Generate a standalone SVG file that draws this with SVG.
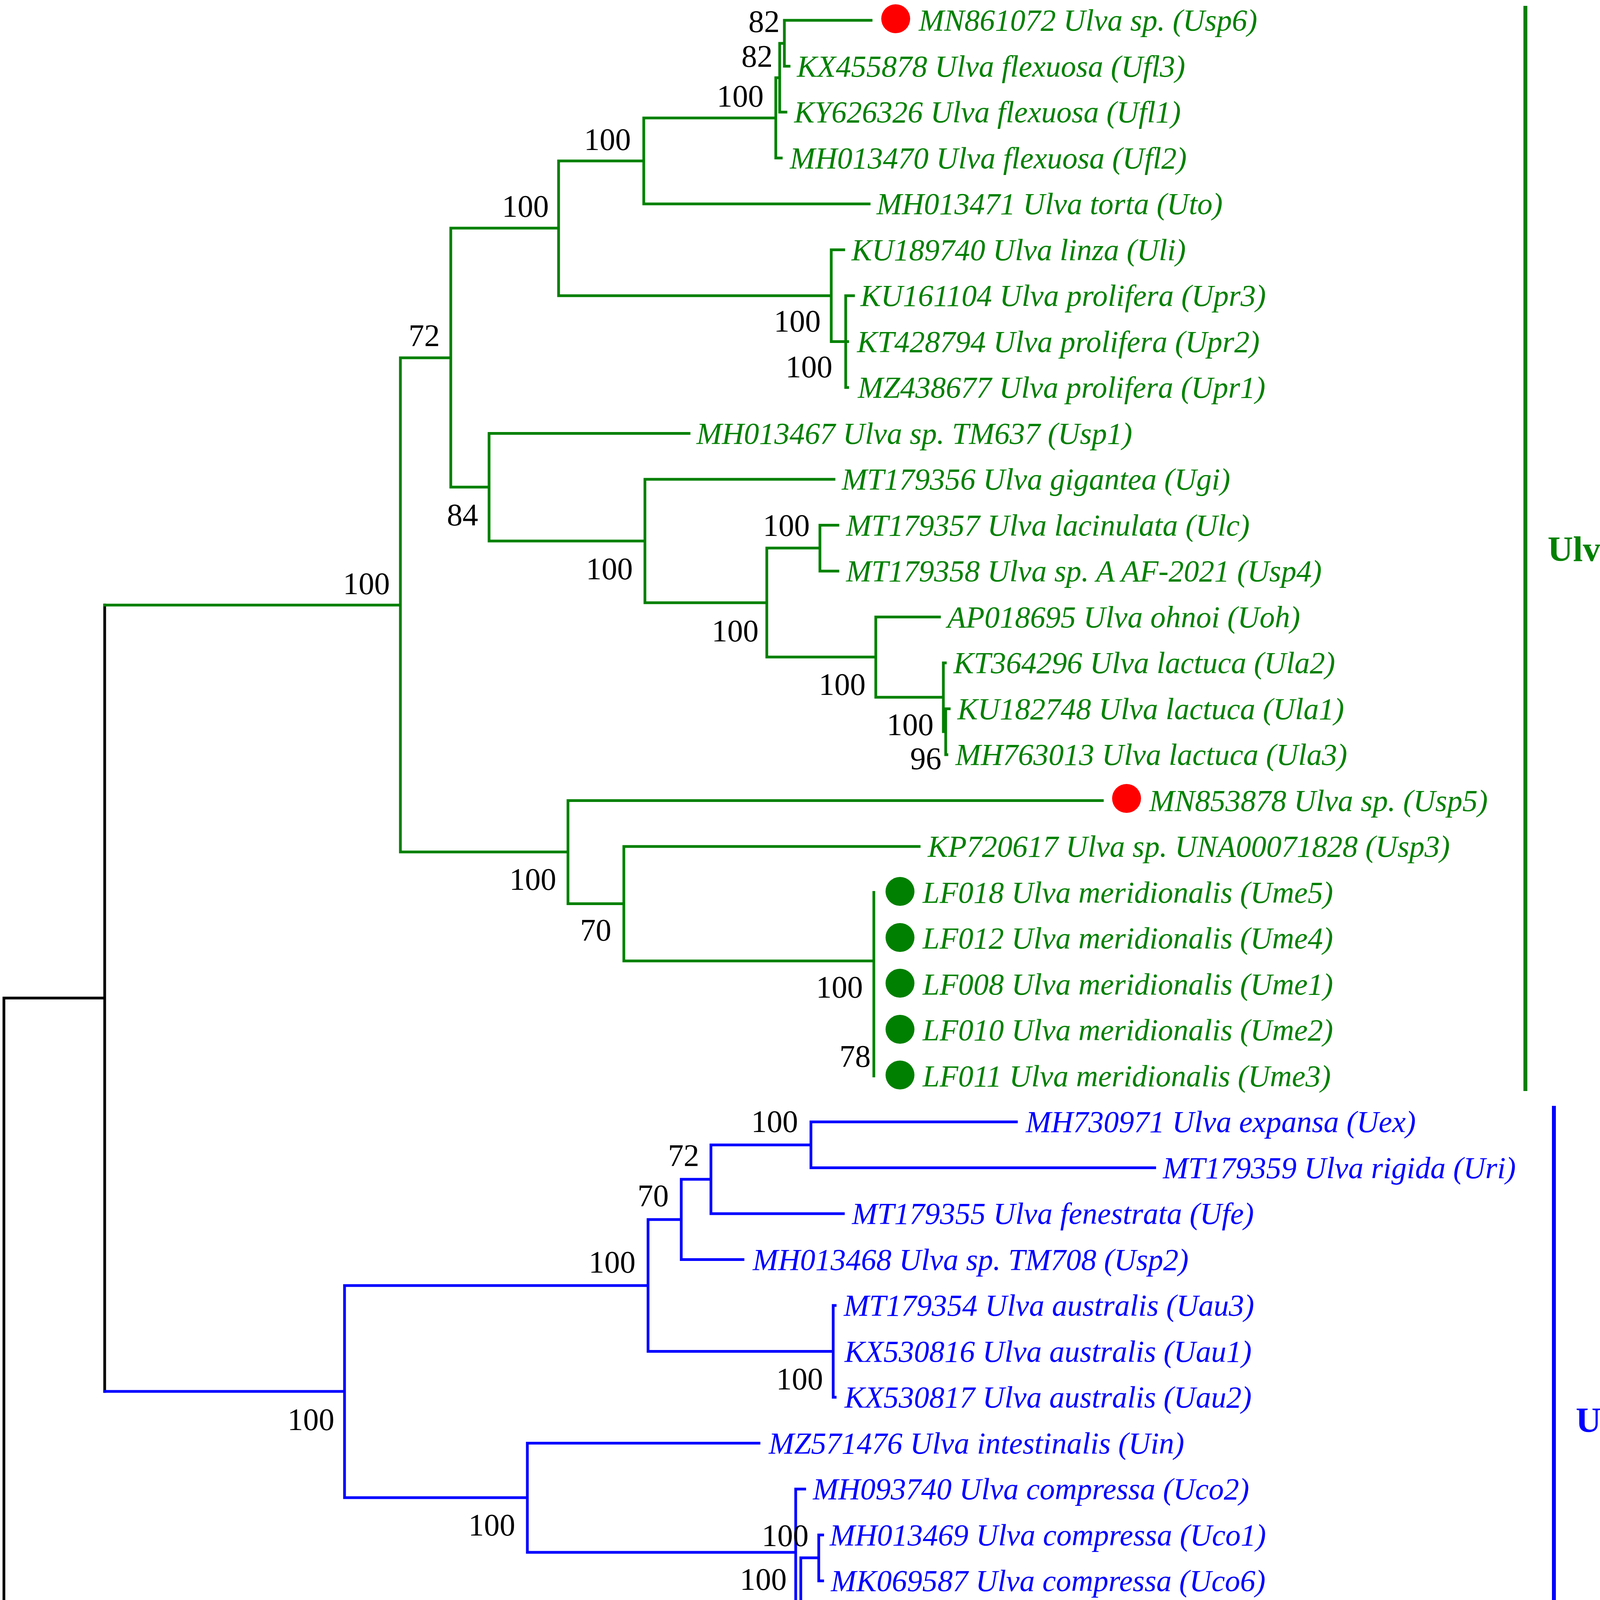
<svg xmlns="http://www.w3.org/2000/svg" width="4317" height="4794" viewBox="0 0 4317 4794">
<style>
.br{fill:none;stroke-width:7;stroke-linecap:square}
.g{stroke:#008000}.b{stroke:#0000FF}.k{stroke:#000000}
.lab{font-family:"Liberation Serif","Times New Roman",serif;font-style:italic;font-size:78px}
.lg{fill:#008000}.lb{fill:#0000FF}.lk{fill:#000000}
.bs{font-family:"Liberation Serif","Times New Roman",serif;font-size:80px;fill:#000;text-anchor:end}
.clade{font-family:"Liberation Serif","Times New Roman",serif;font-weight:bold;font-size:90px}
</style>
<rect width="4317" height="4794" fill="#ffffff"/>
<g id="connectors">
<path class="br k" d="M10 2555 V4517 M10 2555 H268 M268 1549 V3562 M10 4517 H2388"/>
<path class="br g" d="M268 1549 H1025 M1025 916 V2181
M1025 916 H1154 M1154 584 V1247
M1154 584 H1430 M1430 412 V757
M1430 412 H1648 M1648 302 V522
M1648 302 H1986 M1986 199 V404.5 M1986 404.5 H2000
M1986 199 H1996 M1996 111 V287 M1996 287 H2012
M1996 111 H2008 M2008 52 V169.5 M2008 52 H2230 M2008 169.5 H2020
M1648 522 H2225
M1430 757 H2128 M2128 639.5 V874.5 M2128 639.5 H2160
M2128 874.5 H2165 M2165 757 V992 M2165 757 H2185 M2165 874.5 H2170 M2165 992 H2170
M1154 1247 H1252 M1252 1109.5 V1385 M1252 1109.5 H1764
M1252 1385 H1651 M1651 1227 V1543 M1651 1227 H2135
M1651 1543 H1963 M1963 1403 V1682
M1963 1403 H2099 M2099 1344.5 V1462 M2099 1344.5 H2145 M2099 1462 H2145
M1963 1682 H2242 M2242 1579.5 V1785 M2242 1579.5 H2405
M2242 1785 H2415 M2415 1697 V1873 M2415 1697 H2420
M2415 1873 H2421 M2421 1814.5 V1932 M2421 1814.5 H2430 M2421 1932 H2424
M1025 2181 H1454 M1454 2049.5 V2313.5 M1454 2049.5 H2822
M1454 2313.5 H1597 M1597 2167 V2460 M1597 2167 H2353
M1597 2460 H2237 M2237 2284.5 V2754.5"/>
<path class="br b" d="M268 3562 H882 M882 3291 V3834
M882 3291 H1659 M1659 3122 V3459.5
M1659 3122 H1744 M1744 3019 V3224.5 M1744 3224.5 H1902
M1744 3019 H1820 M1820 2931 V3107 M1820 3107 H2159
M1820 2931 H2076 M2076 2872 V2989.5 M2076 2872 H2602 M2076 2989.5 H2956
M1659 3459.5 H2133 M2133 3342 V3577 M2133 3342 H2138 M2133 3577 H2138
M882 3834 H1350 M1350 3694.5 V3974 M1350 3694.5 H1943
M1350 3974 H2037 M2037 3812 V4135 M2037 3812 H2060
M2037 4135 H2050 M2050 3988 V4282
M2050 3988 H2096 M2096 3929.5 V4047 M2096 3929.5 H2106 M2096 4047 H2106
M2050 4282 H2070 M2070 4164.5 V4399.5 M2070 4164.5 H2076 M2070 4282 H2082 M2070 4399.5 H2078"/>
</g>
<g id="bootstrap">
<text class="bs" x="1996" y="82">82</text>
<text class="bs" x="1978" y="171">82</text>
<text class="bs" x="1955" y="273">100</text>
<text class="bs" x="1615" y="384">100</text>
<text class="bs" x="1405" y="555">100</text>
<text class="bs" x="1126" y="886">72</text>
<text class="bs" x="998" y="1521">100</text>
<text class="bs" x="2101" y="849">100</text>
<text class="bs" x="2131" y="966">100</text>
<text class="bs" x="1224" y="1345">84</text>
<text class="bs" x="1620" y="1483">100</text>
<text class="bs" x="2073" y="1372">100</text>
<text class="bs" x="1942" y="1642">100</text>
<text class="bs" x="2216" y="1779">100</text>
<text class="bs" x="2390" y="1882">100</text>
<text class="bs" x="2410" y="1969">96</text>
<text class="bs" x="1424" y="2278">100</text>
<text class="bs" x="1565" y="2408">70</text>
<text class="bs" x="2209" y="2554">100</text>
<text class="bs" x="2229" y="2731">78</text>
<text class="bs" x="2043" y="2898">100</text>
<text class="bs" x="1790" y="2985">72</text>
<text class="bs" x="1712" y="3088">70</text>
<text class="bs" x="1627" y="3258">100</text>
<text class="bs" x="2107" y="3557">100</text>
<text class="bs" x="856" y="3661">100</text>
<text class="bs" x="1319" y="3931">100</text>
<text class="bs" x="2070" y="3958">100</text>
<text class="bs" x="2014" y="4070">100</text>
<text class="bs" x="2027" y="4230">96</text>
<text class="bs" x="2043" y="4377">100</text>
</g>
<g id="leaf-Usp6"><circle cx="2293" cy="48" r="37" fill="#FF0000"/><text class="lab lg" x="2352" y="78">MN861072 Ulva sp. (Usp6)</text></g>
<g id="leaf-Ufl3"><text class="lab lg" x="2040" y="195.5">KX455878 Ulva flexuosa (Ufl3)</text></g>
<g id="leaf-Ufl1"><text class="lab lg" x="2033" y="313">KY626326 Ulva flexuosa (Ufl1)</text></g>
<g id="leaf-Ufl2"><text class="lab lg" x="2022" y="430.5">MH013470 Ulva flexuosa (Ufl2)</text></g>
<g id="leaf-Uto"><text class="lab lg" x="2244" y="548">MH013471 Ulva torta (Uto)</text></g>
<g id="leaf-Uli"><text class="lab lg" x="2180" y="665.5">KU189740 Ulva linza (Uli)</text></g>
<g id="leaf-Upr3"><text class="lab lg" x="2203" y="783">KU161104 Ulva prolifera (Upr3)</text></g>
<g id="leaf-Upr2"><text class="lab lg" x="2194" y="900.5">KT428794 Ulva prolifera (Upr2)</text></g>
<g id="leaf-Upr1"><text class="lab lg" x="2196" y="1018">MZ438677 Ulva prolifera (Upr1)</text></g>
<g id="leaf-Usp1"><text class="lab lg" x="1783" y="1135.5">MH013467 Ulva sp. TM637 (Usp1)</text></g>
<g id="leaf-Ugi"><text class="lab lg" x="2155" y="1253">MT179356 Ulva gigantea (Ugi)</text></g>
<g id="leaf-Ulc"><text class="lab lg" x="2166" y="1370.5">MT179357 Ulva lacinulata (Ulc)</text></g>
<g id="leaf-Usp4"><text class="lab lg" x="2166" y="1488">MT179358 Ulva sp. A AF-2021 (Usp4)</text></g>
<g id="leaf-Uoh"><text class="lab lg" x="2425" y="1605.5">AP018695 Ulva ohnoi (Uoh)</text></g>
<g id="leaf-Ula2"><text class="lab lg" x="2441" y="1723">KT364296 Ulva lactuca (Ula2)</text></g>
<g id="leaf-Ula1"><text class="lab lg" x="2451" y="1840.5">KU182748 Ulva lactuca (Ula1)</text></g>
<g id="leaf-Ula3"><text class="lab lg" x="2446" y="1958">MH763013 Ulva lactuca (Ula3)</text></g>
<g id="leaf-Usp5"><circle cx="2884" cy="2044" r="37" fill="#FF0000"/><text class="lab lg" x="2942" y="2075.5">MN853878 Ulva sp. (Usp5)</text></g>
<g id="leaf-Usp3"><text class="lab lg" x="2375" y="2193">KP720617 Ulva sp. UNA00071828 (Usp3)</text></g>
<g id="leaf-Ume5"><circle cx="2304" cy="2282" r="37" fill="#008000"/><text class="lab lg" x="2362" y="2310.5">LF018 Ulva meridionalis (Ume5)</text></g>
<g id="leaf-Ume4"><circle cx="2304" cy="2400" r="37" fill="#008000"/><text class="lab lg" x="2362" y="2428">LF012 Ulva meridionalis (Ume4)</text></g>
<g id="leaf-Ume1"><circle cx="2304" cy="2517" r="37" fill="#008000"/><text class="lab lg" x="2362" y="2545.5">LF008 Ulva meridionalis (Ume1)</text></g>
<g id="leaf-Ume2"><circle cx="2304" cy="2635" r="37" fill="#008000"/><text class="lab lg" x="2362" y="2663">LF010 Ulva meridionalis (Ume2)</text></g>
<g id="leaf-Ume3"><circle cx="2304" cy="2752" r="37" fill="#008000"/><text class="lab lg" x="2362" y="2780.5">LF011 Ulva meridionalis (Ume3)</text></g>
<g id="leaf-Uex"><text class="lab lb" x="2626" y="2898">MH730971 Ulva expansa (Uex)</text></g>
<g id="leaf-Uri"><text class="lab lb" x="2977" y="3015.5">MT179359 Ulva rigida (Uri)</text></g>
<g id="leaf-Ufe"><text class="lab lb" x="2181" y="3133">MT179355 Ulva fenestrata (Ufe)</text></g>
<g id="leaf-Usp2"><text class="lab lb" x="1927" y="3250.5">MH013468 Ulva sp. TM708 (Usp2)</text></g>
<g id="leaf-Uau3"><text class="lab lb" x="2160" y="3368">MT179354 Ulva australis (Uau3)</text></g>
<g id="leaf-Uau1"><text class="lab lb" x="2162" y="3485.5">KX530816 Ulva australis (Uau1)</text></g>
<g id="leaf-Uau2"><text class="lab lb" x="2162" y="3603">KX530817 Ulva australis (Uau2)</text></g>
<g id="leaf-Uin"><text class="lab lb" x="1968" y="3720.5">MZ571476 Ulva intestinalis (Uin)</text></g>
<g id="leaf-Uco2"><text class="lab lb" x="2081" y="3838">MH093740 Ulva compressa (Uco2)</text></g>
<g id="leaf-Uco1"><text class="lab lb" x="2124" y="3955.5">MH013469 Ulva compressa (Uco1)</text></g>
<g id="leaf-Uco6"><text class="lab lb" x="2127" y="4073">MK069587 Ulva compressa (Uco6)</text></g>
<g id="leaf-Uco3"><text class="lab lb" x="2094" y="4190.5">KY626327 Ulva compressa (Uco3)</text></g>
<g id="leaf-Uco4"><text class="lab lb" x="2104" y="4308">KX595276 Ulva compressa (Uco4)</text></g>
<g id="leaf-Uco5"><text class="lab lb" x="2101" y="4425.5">MK069586 Ulva compressa (Uco5)</text></g>
<g id="leaf-Ppe"><text class="lab lk" x="2405" y="4543">MZ911851 Percursaria percursa (Ppe)</text></g>
<g id="clade-UlvaI"><line x1="3905" y1="15" x2="3905" y2="2793" stroke="#008000" stroke-width="10"/><text class="clade lg" x="3962" y="1436">Ulva I</text></g>
<g id="clade-UlvaII"><line x1="3978" y1="2831" x2="3978" y2="4441" stroke="#0000FF" stroke-width="10"/><text class="clade lb" x="4034" y="3666">Ulva II</text></g>
<g id="scalebar"><path d="M255 4695 H875" stroke="#000" stroke-width="9" fill="none"/><path d="M255 4670 V4720 M875 4670 V4720" stroke="#000" stroke-width="5" fill="none"/><text x="566" y="4782" font-family="Liberation Serif, Times New Roman, serif" font-size="78" text-anchor="middle" fill="#000">0.05</text></g>
</svg>
